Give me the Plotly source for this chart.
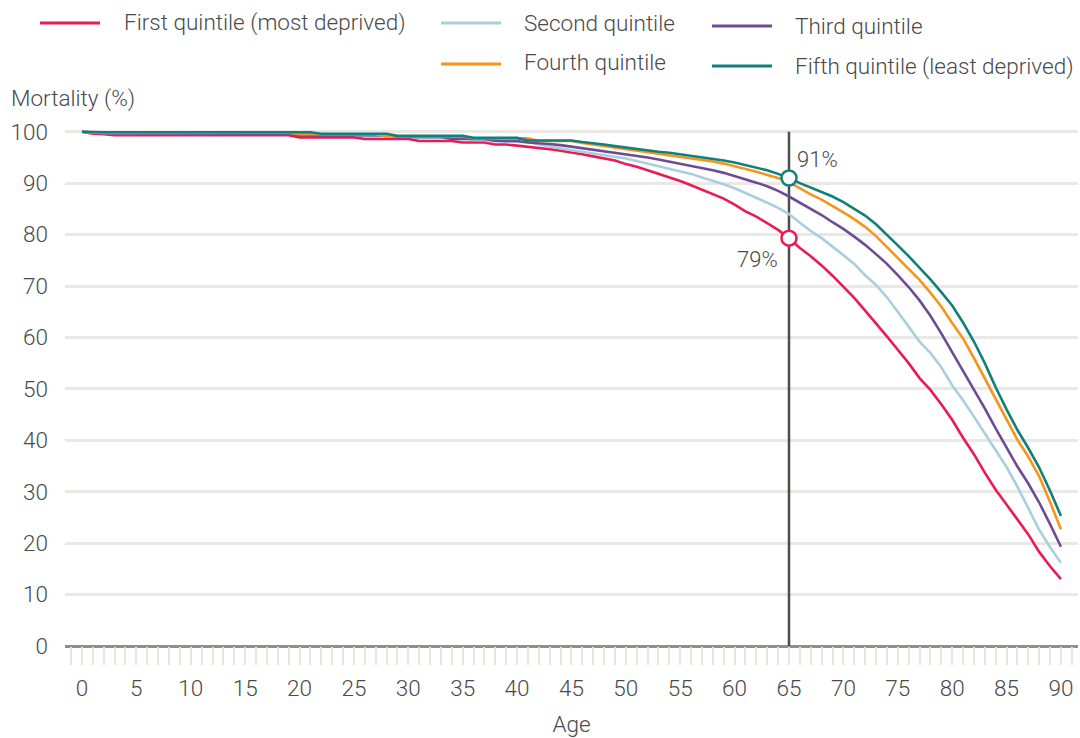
import plotly.graph_objects as go

ages = list(range(0, 91))

first_q = [100, 99.6, 99.5] + [99.3]*17 + [98.9]*6 + [98.6]*5 + [98.2]*4 + [97.9]*3 + [97.5]*2 + [
    97.3, 97.1, 96.9, 96.6, 96.3, 96.0, 95.6, 95.2, 94.8, 94.4,
    93.7, 93.2, 92.5, 91.8, 91.2, 90.4, 89.6, 88.7, 87.8, 87.0,
    85.8, 84.5, 83.5, 82.2, 80.9, 79.3, 77.4, 75.8, 74.0, 72.0,
    69.8, 67.7, 65.2, 62.8, 60.2, 57.6, 55.0, 52.1, 49.8, 47.0,
    44.0, 40.5, 37.3, 33.7, 30.4, 27.5, 24.5, 21.7, 18.3, 15.5, 13.0]

second_q = [100, 99.8] + [99.7]*18 + [99.4]*6 + [99.1]*5 + [98.8]*5 + [98.4]*3 + [98.0]*3 + [
    97.5, 97.1, 96.7, 96.4, 96.1, 95.8, 95.5, 95.2,
    94.8, 94.3, 93.8, 93.4, 92.9, 92.4, 91.8, 91.1, 90.5, 89.8,
    89.0, 88.1, 87.1, 86.2, 85.2, 84.0, 82.3, 80.7, 79.3, 77.7,
    76.0, 74.3, 72.1, 70.2, 67.8, 65.0, 62.0, 59.2, 57.0, 54.2,
    50.7, 47.8, 44.6, 41.4, 38.1, 34.8, 31.0, 26.8, 22.6, 19.2, 16.2]

third_q = [100, 99.8] + [99.7]*14 + [99.6]*4 + [99.3]*9 + [99.0]*5 + [98.6]*4 + [98.2]*3 + [
    97.9, 97.8, 97.6, 97.4, 97.1, 96.9, 96.6, 96.3, 96.0,
    95.7, 95.3, 95.0, 94.6, 94.2, 93.8, 93.4, 93.0, 92.5, 92.0,
    91.4, 90.8, 90.1, 89.4, 88.5, 87.4, 86.2, 85.0, 83.8, 82.4,
    81.1, 79.6, 78.0, 76.2, 74.3, 72.1, 69.8, 67.2, 64.2, 60.8,
    57.2, 53.6, 49.9, 46.2, 42.3, 38.5, 34.9, 31.6, 27.9, 23.7, 19.3]

fourth_q = [100] + [99.8]*19 + [99.5]*8 + [99.1]*8 + [98.7]*6 + [98.2]*4 + [
    97.8, 97.5, 97.2, 96.9,
    96.6, 96.3, 96.0, 95.8, 95.5, 95.2, 94.9, 94.5, 94.2, 93.8,
    93.3, 92.8, 92.2, 91.6, 91.0, 90.2, 89.0, 87.8, 86.8, 85.6,
    84.3, 83.0, 81.5, 79.7, 77.6, 75.6, 73.4, 71.2, 68.7, 66.0,
    62.8, 59.8, 56.0, 52.0, 47.8, 43.8, 40.1, 36.8, 33.0, 28.0, 22.7]

fifth_q = [100] + [99.9]*21 + [99.6]*7 + [99.2]*7 + [98.8]*5 + [98.3]*5 + [
    98.0, 97.8, 97.5, 97.2,
    96.9, 96.6, 96.4, 96.1, 95.9, 95.6, 95.4, 95.1, 94.8, 94.4,
    94.0, 93.5, 93.1, 92.5, 91.8, 91.0, 90.0, 89.1, 88.2, 87.4,
    86.3, 85.0, 83.7, 82.0, 80.0, 77.9, 75.8, 73.6, 71.3, 68.8,
    66.2, 62.9, 59.2, 55.0, 50.3, 46.0, 42.0, 38.5, 34.7, 30.2, 25.3]

series_names = ["First quintile (most deprived)", "Second quintile", "Third quintile",
                "Fourth quintile", "Fifth quintile (least deprived)"]
series_values = [first_q, second_q, third_q, fourth_q, fifth_q]
colors = ["#EA1A52", "#A9CEE0", "#6E4B94", "#F7941E", "#11807A"]

x_ticks = list(range(0, 91, 5))
y_ticks = list(range(0, 101, 10))

mark_age = 65
mark_top_value = 91
mark_low_value = 79.3
mark_labels = ["91%", "79%"]

FONT = "Roboto"
WEIGHT = 300
TXT = "#4a4a4a"

W, H = 1080, 738
ML, MR, MT, MB = 65, 2, 124, 92
PW, PH = W - ML - MR, H - MT - MB


def px(xpix):
    return (xpix - ML) / PW


def py(ypix):
    return (H - MB - ypix) / PH


def f(size):
    return dict(size=size, color=TXT, family=FONT, weight=WEIGHT)


fig = go.Figure()

# vertical marker line (drawn under data)
fig.add_trace(go.Scatter(x=[mark_age, mark_age], y=[0, 100], mode="lines",
                         line=dict(color="#4d4d4d", width=2.5), showlegend=False,
                         hoverinfo="skip"))

for name, vals, col in zip(series_names, series_values, colors):
    fig.add_trace(go.Scatter(x=ages, y=vals, mode="lines", name=name,
                             line=dict(color=col, width=2.6), showlegend=False))

# markers
fig.add_trace(go.Scatter(x=[mark_age], y=[mark_top_value], mode="markers",
                         marker=dict(size=15, color="white", line=dict(color=colors[4], width=2.5)),
                         showlegend=False))
fig.add_trace(go.Scatter(x=[mark_age], y=[mark_low_value], mode="markers",
                         marker=dict(size=15, color="white", line=dict(color=colors[0], width=2.5)),
                         showlegend=False))

annotations = [
    dict(x=mark_age, y=mark_top_value, xref="x", yref="y", text=mark_labels[0], showarrow=False,
         xanchor="left", yanchor="middle", xshift=6, yshift=19, font=f(22)),
    dict(x=mark_age, y=mark_low_value, xref="x", yref="y", text=mark_labels[1], showarrow=False,
         xanchor="right", yanchor="middle", xshift=-9, yshift=-21, font=f(22)),
    dict(x=px(9), y=py(98), xref="paper", yref="paper", text="Mortality (%)", showarrow=False,
         xanchor="left", yanchor="middle", font=f(22.5)),
]

# manual legend
legend_pos = [  # line start x, line y, text x, text y
    (40, 23, 122, 23),
    (441, 23, 522, 23),
    (712, 26, 793, 26),
    (441, 64, 522, 62),
    (712, 66, 793, 67),
]
shapes = []
for (lx, ly, tx, ty), name, col in zip(legend_pos, series_names, colors):
    shapes.append(dict(type="line", xref="paper", yref="paper", x0=px(lx), x1=px(lx + 60),
                       y0=py(ly), y1=py(ly), line=dict(color=col, width=3)))
    annotations.append(dict(x=px(tx), y=py(ty), xref="paper", yref="paper", text=name,
                            showarrow=False, xanchor="left", yanchor="middle", font=f(22.5)))

fig.update_layout(
    width=W, height=H,
    margin=dict(l=ML, r=MR, t=MT, b=MB),
    paper_bgcolor="white", plot_bgcolor="white",
    font=f(20),
    shapes=shapes, annotations=annotations,
    showlegend=False,
    xaxis=dict(range=[-1.56, 91.57], tickvals=x_ticks, ticktext=[str(v) for v in x_ticks],
               ticks="outside", ticklen=18, tickwidth=2, tickcolor="#e6e6e1",
               minor=dict(dtick=1, tick0=0, ticks="outside", ticklen=18, tickwidth=2, tickcolor="#e6e6e1",
                          showgrid=False),
               ticklabelstandoff=4,
               showgrid=False, zeroline=False, showline=False,
               tickfont=f(22.5),
               title=dict(text="Age", font=f(22.5), standoff=16)),
    yaxis=dict(range=[0, 101.5], tickvals=y_ticks, showgrid=True, gridcolor="#e8e8e4", gridwidth=3,
               zeroline=True, zerolinecolor="#8f8f8f", zerolinewidth=3,
               ticks="", ticklabelstandoff=16, showline=False,
               tickfont=f(22.5)),
)

fig.write_html("out.html", config={"displayModeBar": False},
               post_script="document.body.style.margin='0px';document.body.style.padding='0px';")
